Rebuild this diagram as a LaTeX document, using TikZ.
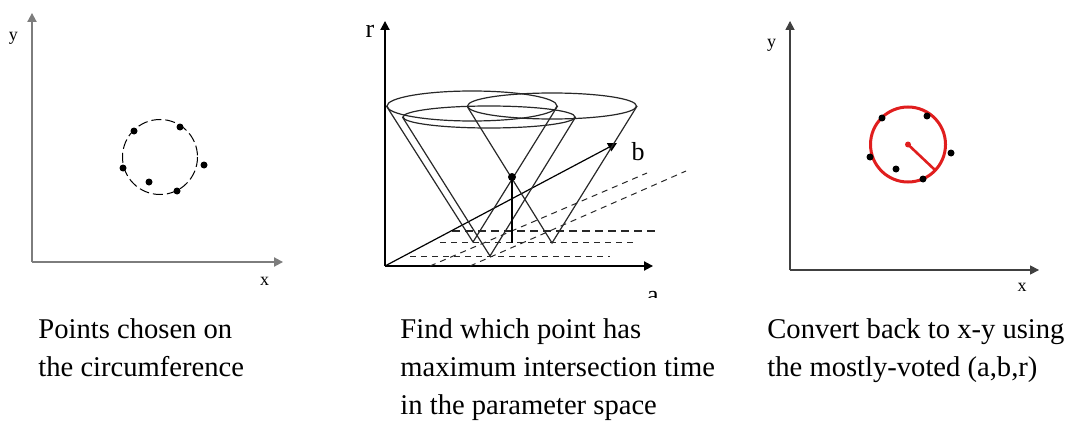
\documentclass[tikz,border=0pt]{standalone}
\usepackage{fontspec}
\setmainfont{Liberation Serif}
\usetikzlibrary{arrows.meta, positioning, shapes.geometric}
\definecolor{htRed}{RGB}{224,30,30}
\definecolor{htAxisGray}{RGB}{125,125,125}
\definecolor{htInk}{RGB}{40,40,40}

\begin{document}
\begin{tikzpicture}[
    x=0.5pt, y=-0.5pt,
    axis/.style={line width=0.75pt, -{Triangle[length=4.5pt,width=4.6pt]}},
    axislbl/.style={font=\fontsize{9}{9}\selectfont, inner sep=0pt},
    paramlbl/.style={font=\fontsize{13}{13}\selectfont, inner sep=0pt},
    caption/.style={font=\fontsize{14.3}{19}\selectfont, inner sep=0pt, anchor=base west},
    cone/.style={draw=htInk, line width=0.6pt},
    conetop/.style={ellipse, cone, inner sep=0pt},
    ground/.style={draw=htInk, line width=0.5pt, dash pattern=on 3pt off 2.5pt},
    groundbold/.style={ground, line width=1pt, dash pattern=on 4pt off 2.5pt},
    fit circle/.style={draw=htRed, line width=1.5pt}
  ]
  \useasboundingbox (0,0) rectangle (1075,444);

  % --- panel 1: edge points in x-y space
  \coordinate (o1) at (32,262);
  \coordinate (y1) at (32,13);
  \coordinate (x1) at (283,262);
  \draw[axis, draw=htAxisGray] (o1) -- (y1);
  \draw[axis, draw=htAxisGray] (o1) -- (x1);
  \node[axislbl] (ylbl1) at (13.5,38) {y};
  \node[axislbl] (xlbl1) at (264.5,281) {x};
  \draw[line width=0.5pt, dash pattern=on 5pt off 2pt] (160,157) circle (37.5);
  \foreach \px/\py in {134/131, 180/127, 204/165, 123/168, 149/182, 177/191}
    \fill (\px,\py) circle (3.5);

  % --- panel 2: cones in the (a,b,r) parameter space
  \coordinate (o2) at (385,266);
  \coordinate (r2) at (385,21);
  \coordinate (a2) at (653,266);
  \coordinate (b2) at (617,143);
  \draw[axis] (o2) -- (r2);
  \draw[axis] (o2) -- (a2);
  \node[paramlbl] (rlbl) at (370,31) {r};
  \node[paramlbl] (blbl) at (638,152) {b};
  \begin{scope}
    \clip (600,270) rectangle (700,297);
    \node[paramlbl] (albl) at (653,298) {a};
  \end{scope}

  % ground plane
  \draw[ground] (430,266) -- (647,173);
  \draw[ground] (470,266) -- (686,171);
  \draw[groundbold] (452,231) -- (656,231);
  \draw[ground] (440,242) -- (633,242);
  \draw[ground] (410,256) -- (610,256);
  \draw[axis, line width=0.6pt] (o2) -- (b2);

  % cones
  \node[conetop, minimum width=85pt, minimum height=15pt] (topA) at (472,106) {};
  \node[conetop, minimum width=86pt, minimum height=11pt] (topB) at (489,117) {};
  \node[conetop, minimum width=84.5pt, minimum height=13pt] (topC) at (552,106) {};
  \coordinate (apexA) at (473,242);
  \coordinate (apexB) at (490,256);
  \coordinate (apexC) at (552,243);
  \draw[cone] (topA.west) -- (apexA) -- (topA.east);
  \draw[cone] (topB.west) -- (apexB) -- (topB.east);
  \draw[cone] (topC.west) -- (apexC) -- (topC.east);

  % most-voted point
  \coordinate (peak) at (512,177);
  \coordinate (foot) at (512,243);
  \draw[line width=1pt] (peak) -- (foot);
  \fill (peak) circle (4);

  % --- panel 3: circle recovered in x-y space
  \coordinate (o3) at (790,270);
  \coordinate (y3) at (790,21);
  \coordinate (x3) at (1039,270);
  \draw[axis, line width=0.55pt, draw=black!75] (o3) -- (y3);
  \draw[axis, line width=0.55pt, draw=black!75] (o3) -- (x3);
  \node[axislbl] (ylbl3) at (771.5,45) {y};
  \node[axislbl] (xlbl3) at (1022,287) {x};
  \coordinate (ctr) at (908,144.5);
  \coordinate (rim) at (935,170);
  \draw[fit circle] (ctr) circle (37.5);
  \foreach \px/\py in {882/118, 927/116, 951/153, 870/157, 896/169, 923/179}
    \fill (\px,\py) circle (3.5);
  \draw[draw=htRed, line width=1.3pt] (ctr) -- (rim);
  \fill[htRed] (ctr) circle (3);

  % --- captions
  \node[caption] (cap1a) at (38,338) {Points chosen on};
  \node[caption] (cap1b) at (38,376) {the circumference};
  \node[caption] (cap2a) at (400,338) {Find which point has};
  \node[caption] (cap2b) at (400,376) {maximum intersection time};
  \node[caption] (cap2c) at (400,414) {in the parameter space};
  \node[caption] (cap3a) at (767,338) {Convert back to x-y using};
  \node[caption] (cap3b) at (767,376) {the mostly-voted (a,b,r)};
\end{tikzpicture}
\end{document}
